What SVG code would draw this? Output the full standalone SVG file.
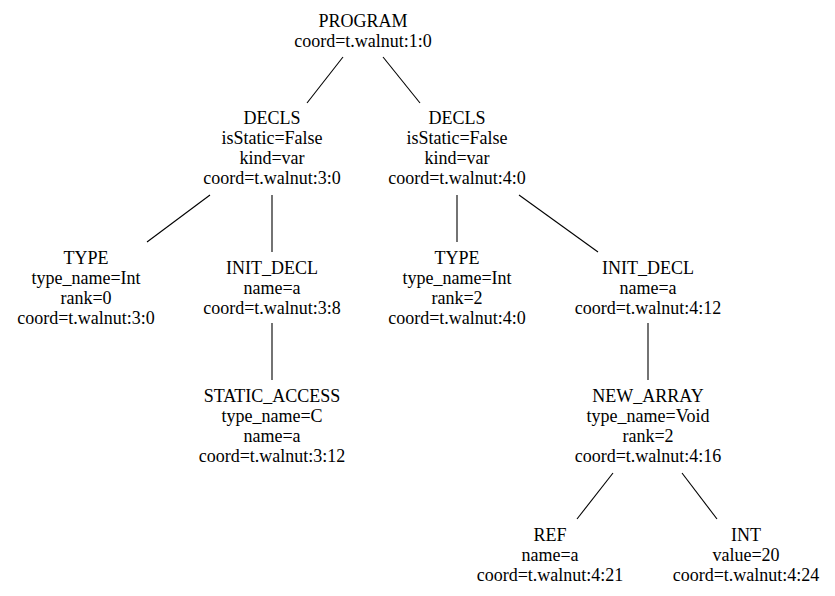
<svg xmlns="http://www.w3.org/2000/svg" width="835" height="596" viewBox="0 0 835 596">
<style>
text{font-family:"Liberation Serif","Times New Roman",serif;font-size:18px;fill:#000;text-anchor:middle}
.e line{stroke:#000;stroke-width:1.1;fill:none}
</style>
<rect width="835" height="596" fill="#fff"/>
<g id="connectors" class="e">
<line x1="343" y1="57" x2="307" y2="103"/>
<line x1="383" y1="57" x2="420" y2="103"/>
<line x1="210" y1="195" x2="147" y2="242"/>
<line x1="272" y1="195" x2="272" y2="252"/>
<line x1="457" y1="195" x2="457" y2="242"/>
<line x1="519" y1="195" x2="598" y2="252"/>
<line x1="272" y1="323" x2="272" y2="380"/>
<line x1="648" y1="323" x2="648" y2="380"/>
<line x1="613" y1="473" x2="577" y2="519"/>
<line x1="682" y1="473" x2="717" y2="519"/>
</g>
<g id="program"><text x="363" y="27">PROGRAM</text><text x="363" y="47">coord=t.walnut:1:0</text></g>
<g id="decls1"><text x="272" y="124">DECLS</text><text x="272" y="144">isStatic=False</text><text x="272" y="164">kind=var</text><text x="272" y="184">coord=t.walnut:3:0</text></g>
<g id="decls2"><text x="457" y="124">DECLS</text><text x="457" y="144">isStatic=False</text><text x="457" y="164">kind=var</text><text x="457" y="184">coord=t.walnut:4:0</text></g>
<g id="type1"><text x="86" y="264">TYPE</text><text x="86" y="284">type_name=Int</text><text x="86" y="304">rank=0</text><text x="86" y="324">coord=t.walnut:3:0</text></g>
<g id="initdecl1"><text x="272" y="274">INIT_DECL</text><text x="272" y="294">name=a</text><text x="272" y="314">coord=t.walnut:3:8</text></g>
<g id="type2"><text x="457" y="264">TYPE</text><text x="457" y="284">type_name=Int</text><text x="457" y="304">rank=2</text><text x="457" y="324">coord=t.walnut:4:0</text></g>
<g id="initdecl2"><text x="648" y="274">INIT_DECL</text><text x="648" y="294">name=a</text><text x="648" y="314">coord=t.walnut:4:12</text></g>
<g id="staticaccess"><text x="272" y="402">STATIC_ACCESS</text><text x="272" y="422">type_name=C</text><text x="272" y="442">name=a</text><text x="272" y="462">coord=t.walnut:3:12</text></g>
<g id="newarray"><text x="648" y="402">NEW_ARRAY</text><text x="648" y="422">type_name=Void</text><text x="648" y="442">rank=2</text><text x="648" y="462">coord=t.walnut:4:16</text></g>
<g id="ref"><text x="550" y="541">REF</text><text x="550" y="561">name=a</text><text x="550" y="581">coord=t.walnut:4:21</text></g>
<g id="int"><text x="746" y="541">INT</text><text x="746" y="561">value=20</text><text x="746" y="581">coord=t.walnut:4:24</text></g>
</svg>
